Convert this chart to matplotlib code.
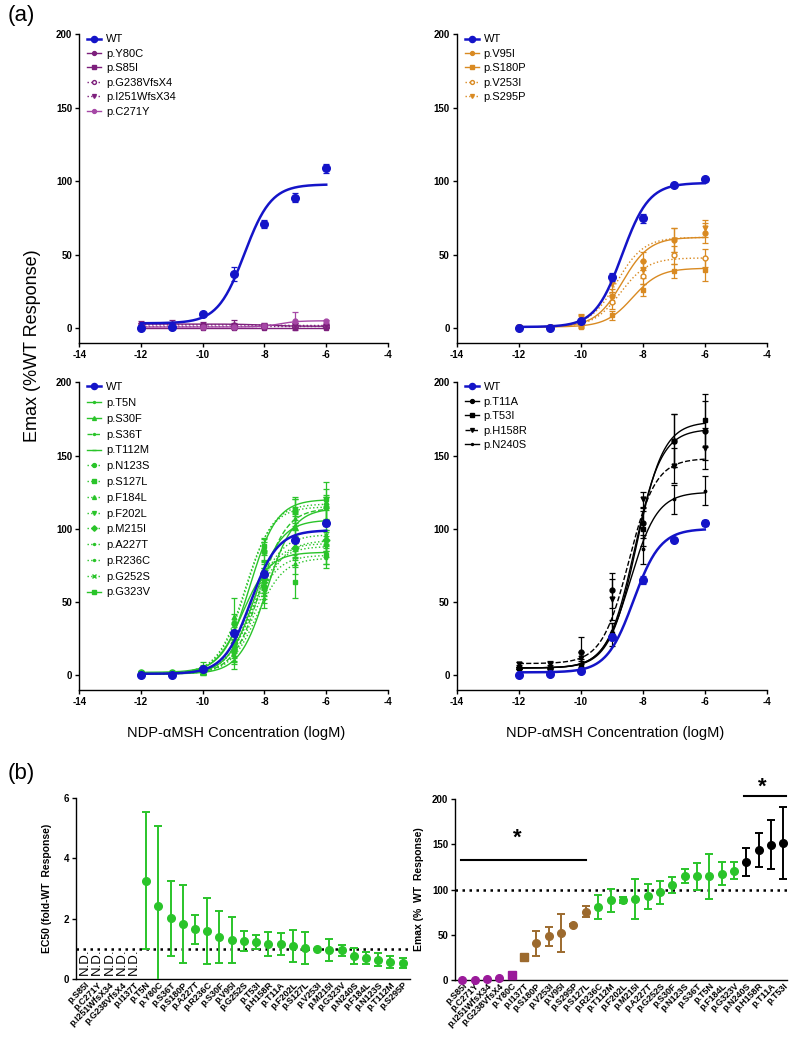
import matplotlib.pyplot as plt
import numpy as np
from matplotlib.lines import Line2D

plt.rcParams['font.family'] = ['Liberation Sans', 'DejaVu Sans']
plt.rcParams['axes.unicode_minus'] = False

# ---- (a) concentration-response data ----
conc = [-12, -11, -10, -9, -8, -7, -6]

# fit parameters: bottom, top, logEC50, hill
tl_labels = ["WT", "p.Y80C", "p.S85I", "p.G238VfsX4", "p.I251WfsX34", "p.C271Y"]
tl_y = [[0.5, 1, 9.5, 37, 71, 89, 109],
        [3, 3, 2.5, 2.5, 2, 2, 1.5],
        [0.5, 0.5, 0.5, 0.5, 0.5, 0.5, 0.5],
        [1.5, 1.5, 1.5, 1.5, 1.5, 1.5, 1.5],
        [2.5, 2.5, 2, 2, 2, 2, 2],
        [1, 1, 1, 1, 2, 5, 5]]
tl_err = [[1, 1, 1, 5, 3, 3, 3],
          [2, 3, 2, 3, 2, 2, 1],
          [0.5, 0.5, 0.5, 0.5, 0.5, 0.5, 0.5],
          [1, 1, 1, 1, 1, 1, 1],
          [1, 1, 1, 2, 1, 2, 1],
          [1, 1, 1, 1, 2, 6, 1]]
tl_fit = [[3.5, 98, -8.65, 1], [3, 1.5, -8, 1], [0.5, 0.5, -8, 1],
          [1.5, 1.5, -8, 1], [2.5, 2, -8, 1], [1, 5.2, -7.5, 1.5]]

tr_labels = ["WT", "p.V95I", "p.S180P", "p.V253I", "p.S295P"]
tr_y = [[0.5, 0.5, 5, 35, 75, 97.5, 101.5],
        [1, 1, 3, 22, 46, 60, 65],
        [1, 1, 1, 9, 26, 39, 40],
        [1, 1, 6, 18, 36, 50, 48],
        [1, 1, 7, 30, 40, 60, 68]]
tr_err = [[0.5, 0.5, 1, 3, 3, 1, 1],
          [0.5, 0.5, 2, 5, 6, 8, 7],
          [0.5, 0.5, 1, 3, 4, 5, 8],
          [0.5, 0.5, 3, 5, 6, 6, 6],
          [0.5, 0.5, 3, 5, 6, 8, 6]]
tr_fit = [[1, 99, -8.67, 1], [1, 62, -8.66, 1], [1, 41, -8.33, 1],
          [1, 48, -8.71, 1], [1, 62, -8.84, 1]]

bl_labels = ["WT", "p.T5N", "p.S30F", "p.S36T", "p.T112M", "p.N123S", "p.S127L",
             "p.F184L", "p.F202L", "p.M215I", "p.A227T", "p.R236C", "p.G252S", "p.G323V"]
bl_y = [[0, 0.5, 4, 29, 69, 92.5, 104],
        [1, 1, 2, 10, 52, 102, 114],
        [1, 1, 3, 19, 72, 101, 106],
        [1, 1, 3, 15, 67, 107, 114],
        [1, 2, 4, 29, 70, 82, 84],
        [2, 2, 5, 36, 85, 112, 115],
        [1, 1, 4, 18, 60, 64, 82],
        [2, 2, 6, 40, 85, 112, 118],
        [1, 1, 3, 20, 62, 86, 88],
        [1, 1, 3, 22, 66, 87, 92],
        [1, 1, 3, 15, 58, 88, 92],
        [1, 1, 2, 13, 55, 76, 80],
        [1, 1, 3, 18, 67, 92, 96],
        [2, 2, 4, 28, 88, 113, 120]]
bl_err = [[0.5, 0.5, 1, 2, 2, 1, 2]] + [[1, 1, 2, 6, 6, 8, 8]] * 5 + \
         [[1, 1, 2, 6, 6, 11, 6]] + [[1, 1, 3, 13, 8, 10, 14]] + [[1, 1, 2, 5, 6, 7, 7]] * 6
bl_fit = [[1, 99, -8.45, 1], [1, 114, -7.94, 1], [1, 106, -8.31, 1], [1, 114, -8.15, 1],
          [1, 84, -8.71, 1], [1, 115, -8.64, 1], [1, 82, -8.44, 1], [1, 117, -8.6, 1],
          [1, 88, -8.41, 1], [1, 90, -8.47, 1], [1, 92, -8.24, 1], [1, 80, -8.25, 1],
          [1, 96, -8.35, 1], [2, 120, -8.47, 1]]

br_labels = ["WT", "p.T11A", "p.T53I", "p.H158R", "p.N240S"]
br_y = [[0, 1, 3, 26, 65, 92.5, 104],
        [5, 5, 16, 58, 104, 160, 167],
        [5, 4, 7, 28, 100, 160, 174],
        [8, 8, 12, 52, 120, 143, 155],
        [5, 5, 8, 30, 86, 120, 126]]
br_err = [[0.5, 1, 1, 2, 3, 1, 2],
          [1, 2, 10, 12, 10, 18, 20],
          [1, 1, 3, 8, 12, 18, 18],
          [1, 2, 4, 14, 5, 12, 14],
          [1, 1, 3, 6, 10, 10, 10]]
br_fit = [[2, 100, -8.3, 1], [5, 168, -8.26, 1], [5, 173, -8.2, 1],
          [8, 148, -8.45, 1], [5, 125, -8.4, 1]]

# ---- (b) summary data ----
ec50_labels = ["p.S85I", "p.C271Y", "p.I251WfsX34", "p.G238VfsX4", "p.I137T", "p.T5N",
               "p.Y80C", "p.S36T", "p.S180P", "p.A227T", "p.R236C", "p.S30F", "p.V95I",
               "p.G252S", "p.T53I", "p.H158R", "p.T11A", "p.F202L", "p.S127L", "p.V253I",
               "p.M215I", "p.G323V", "p.N240S", "p.F184L", "p.N123S", "p.T112M", "p.S295P"]
ec50_mean = [np.nan] * 5 + [3.25, 2.43, 2.01, 1.82, 1.64, 1.60, 1.39, 1.29, 1.26, 1.22,
                            1.17, 1.17, 1.09, 1.02, 1.0, 0.96, 0.95, 0.76, 0.70, 0.64, 0.55, 0.53]
ec50_err = [np.nan] * 5 + [2.27, 2.65, 1.25, 1.3, 0.49, 1.1, 0.87, 0.75, 0.33, 0.24,
                           0.4, 0.37, 0.52, 0.53, 0.0, 0.36, 0.19, 0.25, 0.2, 0.22, 0.2, 0.17]

emax_labels = ["p.S85I", "p.C271Y", "p.I251WfsX34", "p.G238VfsX4", "p.Y80C", "p.I137T",
               "p.S180P", "p.V253I", "p.V95I", "p.S295P", "p.S127L", "p.R236C", "p.T112M",
               "p.F202L", "p.M215I", "p.A227T", "p.G252S", "p.S30F", "p.N123S", "p.S36T",
               "p.T5N", "p.F184L", "p.G323V", "p.N240S", "p.H158R", "p.T11A", "p.T53I"]
emax_mean = [0, 0.5, 1, 2.5, 5.5, 25, 40.5, 48.6, 51.6, 60.8, 75.5, 80.7, 88, 88.4, 89.5,
             92.5, 96.9, 105, 115, 114.5, 114.5, 117.5, 121, 130.4, 143.6, 149.5, 151.7]
emax_err = [0, 0, 0, 0, 0, 0, 13.5, 10.5, 21, 1.5, 6, 13.5, 13, 3.3, 22, 14, 13, 9, 8,
            15, 25, 13, 9, 16, 18.6, 27, 40]
emax_group = ["p"] * 5 + ["o"] * 6 + ["g"] * 12 + ["k"] * 4

BLUE = "#1414c8"
PURPLE = "#7d1f7c"
ORANGE = "#d98a22"
GREEN = "#2ac42a"
BROWN = "#9c6a2e"


def logistic(x, bottom, top, logec50, hill):
    return bottom + (top - bottom) / (1 + 10 ** ((logec50 - x) * hill))


def style_axes(ax):
    for side in ("top", "right"):
        ax.spines[side].set_visible(False)
    for side in ("left", "bottom"):
        ax.spines[side].set_linewidth(1.0)
    ax.tick_params(direction="out", length=3, width=1, labelsize=7, pad=2)
    for lab in ax.get_xticklabels() + ax.get_yticklabels():
        lab.set_fontweight("bold")


def draw_response(ax, labels, ys, errs, fits, colors, styles, markers, fills, spacing=0.4):
    xf = np.linspace(-12, -6, 200)
    handles = []
    for i, lab in enumerate(labels):
        is_wt = lab == "WT"
        lw = 1.8 if is_wt else 1.0
        ms = 5.5 if is_wt else 3.5
        mfc = colors[i] if fills[i] else "white"
        ax.plot(xf, logistic(xf, *fits[i]), color=colors[i], ls=styles[i], lw=lw,
                zorder=3 if is_wt else 2)
        ax.errorbar(conc, ys[i], yerr=errs[i], fmt=markers[i], color=colors[i], ms=ms,
                    mfc=mfc, capsize=2, elinewidth=0.9, capthick=0.9,
                    zorder=4 if is_wt else 2)
        handles.append(Line2D([], [], color=colors[i], ls=styles[i], lw=lw,
                              marker=markers[i], ms=ms * 0.8, mfc=mfc))
    ax.legend(handles, labels, loc="upper left", bbox_to_anchor=(0.0, 1.025),
              frameon=False, fontsize=8, handlelength=1.3, handletextpad=0.4,
              labelspacing=spacing, borderaxespad=0.3)
    ax.set_xlim(-14, -4)
    ax.set_ylim(-10, 200)
    ax.set_xticks([-14, -12, -10, -8, -6, -4])
    ax.set_yticks([0, 50, 100, 150, 200])
    style_axes(ax)


fig = plt.figure(figsize=(8, 10.43), dpi=100)

ax_tl = fig.add_axes([0.099, 0.671, 0.386, 0.296])
ax_tr = fig.add_axes([0.571, 0.671, 0.3875, 0.296])
ax_bl = fig.add_axes([0.099, 0.3385, 0.386, 0.295])
ax_br = fig.add_axes([0.571, 0.3385, 0.3875, 0.295])

draw_response(ax_tl, tl_labels, tl_y, tl_err, tl_fit,
              [BLUE, PURPLE, PURPLE, PURPLE, PURPLE, "#a648a6"],
              ["-", "-", "-", ":", ":", "-"],
              ["o", "o", "s", "o", "v", "o"],
              [True, True, True, False, True, True])
draw_response(ax_tr, tr_labels, tr_y, tr_err, tr_fit,
              [BLUE] + [ORANGE] * 4,
              ["-", "-", "-", ":", ":"],
              ["o", "o", "s", "o", "v"],
              [True, True, True, False, True])
draw_response(ax_bl, bl_labels, bl_y, bl_err, bl_fit,
              [BLUE] + [GREEN] * 13,
              ["-", "-", "-", "--", "-", ":", ":", ":", ":", ":", ":", ":", ":", "-"],
              ["o", ".", "^", ".", "_", "o", "s", "^", "v", "D", ".", ".", "x", "s"],
              [True] * 14, spacing=0.52)
draw_response(ax_br, br_labels, br_y, br_err, br_fit,
              [BLUE] + ["black"] * 4,
              ["-", "-", "-", "--", "-"],
              ["o", "o", "s", "v", "."],
              [True] * 5)

fig.text(0.041, 0.669, "Emax (%WT Response)", rotation=90, ha="center", va="center",
         fontsize=13)
fig.text(0.295, 0.297, "NDP-\u03b1MSH Concentration (logM)", ha="center", va="center",
         fontsize=10.5)
fig.text(0.769, 0.297, "NDP-\u03b1MSH Concentration (logM)", ha="center", va="center",
         fontsize=10.5)
fig.text(0.009, 0.995, "(a)", ha="left", va="top", fontsize=16)
fig.text(0.009, 0.268, "(b)", ha="left", va="top", fontsize=16)

# ---- (b) left: EC50 ----
ax_ec = fig.add_axes([0.095, 0.0614, 0.4175, 0.1735])
xpos = np.arange(len(ec50_labels))
ax_ec.axhline(1.0, color="black", ls=(0, (1, 1.8)), lw=1.8, zorder=1)
ax_ec.errorbar(xpos, ec50_mean, yerr=ec50_err, fmt="o", color=GREEN, ms=5.5,
               capsize=3, elinewidth=1.4, capthick=1.4, zorder=3)
for i in range(5):
    ax_ec.text(xpos[i], 0.12, "N.D.", rotation=90, ha="center", va="bottom", fontsize=9.5)
ax_ec.set_xlim(-0.74, 26.6)
ax_ec.set_ylim(0, 6)
ax_ec.set_yticks([0, 2, 4, 6])
ax_ec.set_xticks(xpos)
ax_ec.set_xticklabels(ec50_labels, rotation=45, ha="right", rotation_mode="anchor",
                      fontsize=6.5)
ax_ec.set_ylabel("EC50 (fold-WT  Response)", fontsize=7.5, fontweight="bold", labelpad=8)
style_axes(ax_ec)
ax_ec.tick_params(axis="x", labelsize=6.5, length=0, pad=1)

# ---- (b) right: Emax ----
ax_em = fig.add_axes([0.569, 0.0604, 0.415, 0.1735])
group_colors = {"p": "#9a1a9a", "o": BROWN, "g": GREEN, "k": "black"}
ax_em.axhline(100, color="black", ls=(0, (1, 1.8)), lw=1.8, zorder=1)
for i, lab in enumerate(emax_labels):
    marker = "s" if lab in ("p.Y80C", "p.I137T") else "o"
    ax_em.errorbar(i, emax_mean[i], yerr=emax_err[i] if emax_err[i] > 0 else None,
                   fmt=marker, color=group_colors[emax_group[i]], ms=5.5, capsize=3,
                   elinewidth=1.4, capthick=1.4, zorder=3, clip_on=False)
ax_em.plot([-0.1, 10.0], [132.5, 132.5], color="black", lw=1.5, clip_on=False)
ax_em.text(4.45, 157, "*", ha="center", va="center", fontsize=16, fontweight="bold")
ax_em.plot([22.8, 26.2], [203, 203], color="black", lw=1.5, clip_on=False)
ax_em.text(24.3, 213, "*", ha="center", va="center", fontsize=16, fontweight="bold",
           clip_on=False)
ax_em.set_xlim(-0.57, 26.3)
ax_em.set_ylim(0, 200)
ax_em.set_yticks([0, 50, 100, 150, 200])
ax_em.set_xticks(np.arange(len(emax_labels)))
ax_em.set_xticklabels(emax_labels, rotation=45, ha="right", rotation_mode="anchor",
                      fontsize=6.5)
ax_em.set_ylabel("Emax (%  WT  Response)", fontsize=7.5, fontweight="bold", labelpad=6)
style_axes(ax_em)
ax_em.tick_params(axis="x", labelsize=6.5, length=0, pad=1)

fig.savefig("out.png", dpi=100)
